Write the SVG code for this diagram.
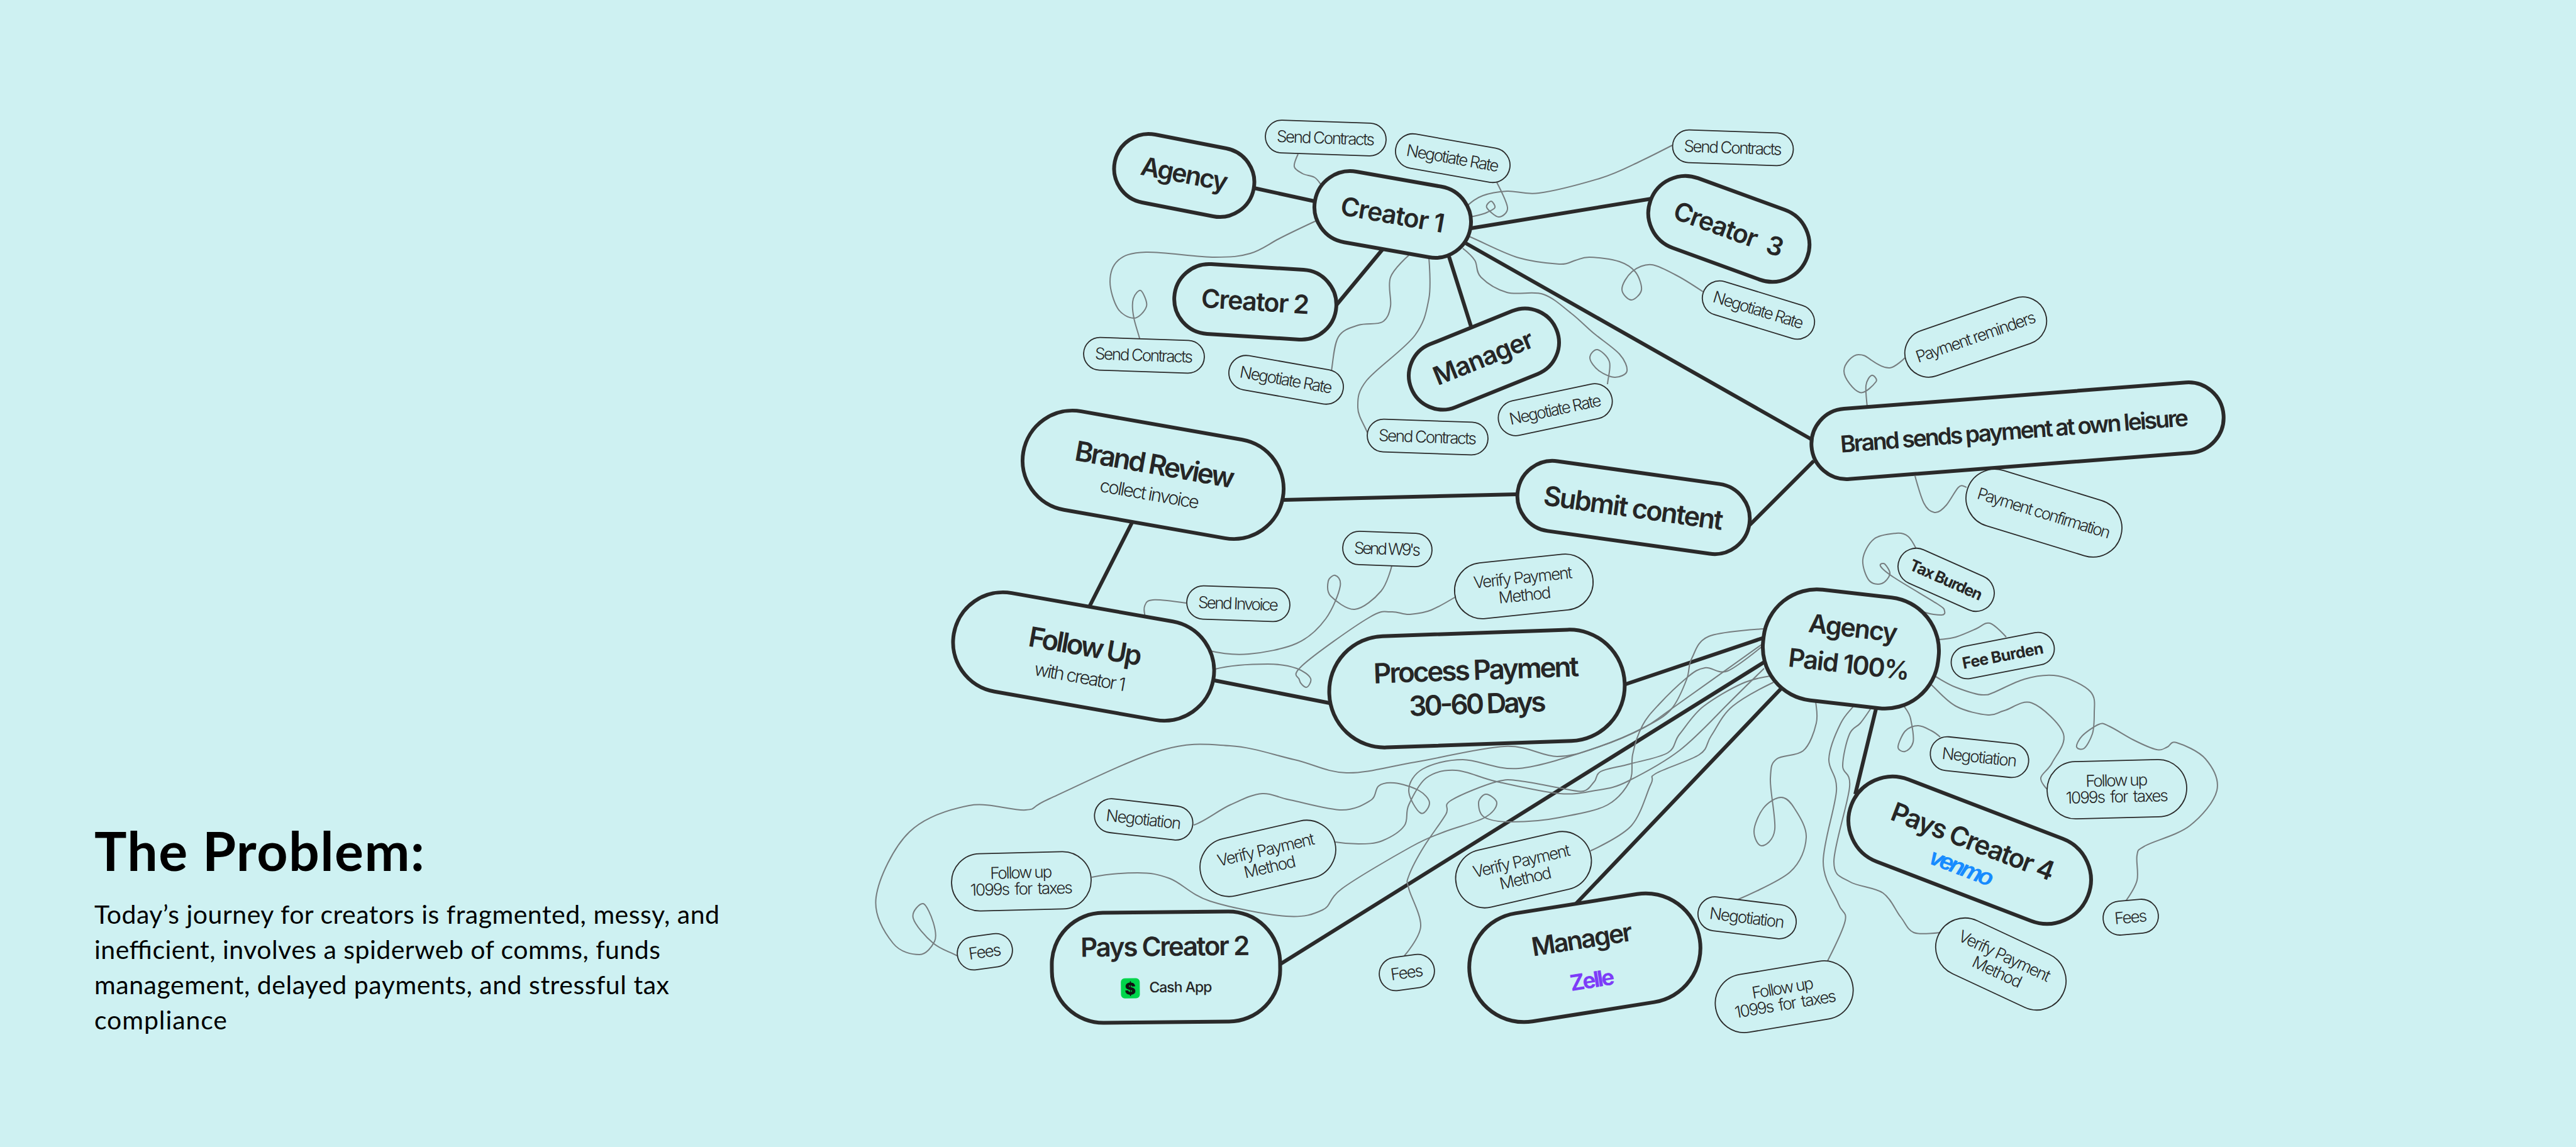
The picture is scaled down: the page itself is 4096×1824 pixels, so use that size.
<svg xmlns="http://www.w3.org/2000/svg" width="4096" height="1824" viewBox="0 0 4096 1824">
<style>
.n{fill:#CEF1F2;stroke:#2a2a2a;stroke-width:6}
.s{fill:#CEF1F2;stroke:#2a2a2a;stroke-width:1.8}
.k{stroke:#2a2a2a;stroke-width:6;fill:none}
.c{stroke:#767d7f;stroke-width:2;fill:none}
text{font-family:Inter,"Liberation Sans",sans-serif;fill:#262626;text-anchor:middle}
.t{font-size:41px;font-weight:600}
.l{font-size:26px;font-weight:300}
.b{font-size:25px;font-weight:700}
.h{font-family:Lato,"Liberation Sans",sans-serif;fill:#000;text-anchor:start}
</style>
<rect width="4096" height="1824" fill="#CEF1F2"/>
<g id="connectors">
<g id="thick-links">
<path class="k" d="M1994 299L2090 320M2198 397L2125 485M2304 408L2339 519M2339 363L2626 316M2331 387L2881 699M2884 733L2782 835M2041 795L2413 786M1800 831L1732 965M1931 1082L2114 1118M2585 1088L2805 1014M2805 1053L2036 1533M2834 1093L2506 1437M2983 1127L2950 1263"/>
</g>
<g id="thin-links">
<path class="c" d="M2064 245C2064 245 2057 260 2058 265S2066 273 2071 276 2085 279 2090 282 2097 289 2100 293"/>
<path class="c" d="M2380 290C2380 290 2396 321 2397 330S2388 345 2383 345 2366 334 2364 330 2369 320 2371 320 2378 327 2377 330 2370 335 2364 338 2347 343 2339 345"/>
<path class="c" d="M2659 231C2659 231 2626 248 2607 257S2570 276 2543 284 2471 304 2447 307 2411 303 2396 304 2369 307 2358 311 2340 321 2332 328"/>
<path class="c" d="M2708 464C2708 464 2678 444 2664 437S2637 422 2626 421 2603 425 2595 432 2579 452 2579 460 2589 477 2594 477 2609 468 2610 461 2606 439 2600 432 2587 420 2575 416 2539 409 2527 409 2513 412 2505 414 2494 421 2479 420 2439 417 2415 410 2362 387 2336 376"/>
<path class="c" d="M2093 351C2093 351 2050 371 2033 380S2005 398 1988 403 1959 409 1931 409 1847 400 1822 401 1787 406 1778 414 1765 435 1765 448 1771 480 1777 490 1795 506 1803 506 1821 494 1823 487 1817 464 1814 462 1804 468 1802 475 1801 496 1803 506 1809 527 1812 538"/>
<path class="c" d="M2240 406C2240 406 2216 427 2211 441S2213 475 2211 487 2206 507 2198 512 2172 513 2160 517 2135 524 2128 536 2120 572 2117 590"/>
<path class="c" d="M2272 410C2272 410 2276 455 2272 475S2266 511 2250 533 2188 586 2173 605 2159 634 2159 648 2170 676 2175 690"/>
<path class="c" d="M2326 395C2326 395 2340 406 2345 414S2346 432 2355 441 2379 460 2396 465 2437 462 2454 468 2485 488 2498 498 2520 518 2533 529 2566 553 2575 563 2588 584 2587 590 2575 600 2568 600 2550 595 2543 590 2528 575 2528 569 2535 555 2540 556 2556 566 2559 575 2557 599 2556 611"/>
<path class="c" d="M3029 569C3029 569 3014 584 3005 585S2986 580 2976 573 2964 564 2955 564 2932 578 2932 590 2948 621 2957 624 2980 611 2983 607 2979 596 2976 597 2968 605 2967 613 2968 636 2969 647"/>
<path class="c" d="M3045 757C3045 757 3054 790 3059 800S3070 814 3076 815 3089 810 3095 803 3109 780 3114 775 3122 773 3127 775"/>
<path class="c" d="M3047 873C3047 873 3039 857 3034 853S3024 847 3015 848 2989 850 2980 857 2963 879 2962 890 2967 917 2972 923 2986 930 2992 928 3004 918 3005 913 2999 899 2997 897 2988 896 2990 900 2996 908 3011 918 3066 951 3080 960 3091 969 3092 972 3092 978 3087 978 3068 977 3059 973"/>
<path class="c" d="M3190 1013C3190 1013 3172 993 3164 991S3151 996 3142 1000 3120 1010 3110 1013 3092 1016 3083 1017"/>
<path class="c" d="M3255 1255C3255 1255 3244 1244 3245 1237S3257 1225 3263 1213 3286 1183 3281 1167 3247 1124 3231 1118 3199 1127 3187 1130 3174 1138 3161 1137 3125 1131 3110 1123 3083 1100 3070 1088"/>
<path class="c" d="M3380 1433C3380 1433 3395 1412 3398 1400S3396 1369 3398 1360 3397 1353 3411 1345 3463 1328 3482 1313 3521 1275 3525 1257 3518 1220 3507 1207 3471 1184 3461 1181 3451 1186 3446 1188 3438 1194 3429 1192 3405 1183 3393 1177 3363 1159 3354 1155 3344 1149 3337 1152 3317 1164 3311 1170 3301 1185 3302 1188 3310 1193 3314 1190 3324 1176 3327 1167 3330 1144 3330 1133 3333 1110 3324 1100 3290 1078 3273 1075 3236 1075 3219 1080 3179 1098 3168 1102 3165 1104 3155 1105 3123 1098 3110 1093 3087 1081 3076 1075"/>
<path class="c" d="M3085 1172C3085 1172 3077 1165 3071 1162S3057 1154 3050 1154 3034 1157 3029 1163 3018 1183 3018 1188 3025 1196 3029 1195 3040 1189 3042 1180 3040 1153 3038 1143 3031 1129 3027 1122"/>
<path class="c" d="M2762 1431C2762 1431 2828 1403 2846 1387S2871 1349 2872 1332 2860 1296 2853 1285 2840 1268 2832 1268 2811 1276 2804 1285 2789 1312 2789 1322 2795 1345 2801 1345 2820 1337 2822 1319 2814 1257 2815 1238 2816 1214 2825 1207 2856 1203 2867 1194 2885 1163 2888 1150 2888 1127 2887 1115"/>
<path class="c" d="M2906 1528C2906 1528 2931 1479 2934 1464S2929 1453 2923 1437 2899 1400 2899 1370 2918 1285 2920 1258 2907 1225 2908 1207 2920 1164 2927 1150 2941 1131 2948 1122"/>
<path class="c" d="M3085 1483C3085 1483 3053 1487 3043 1483S3030 1468 3022 1458 3007 1429 2994 1420 2954 1410 2941 1402 2916 1395 2916 1370 2939 1276 2941 1251 2930 1232 2930 1218 2936 1178 2941 1167 2952 1157 2958 1150 2970 1133 2976 1125"/>
<path class="c" d="M2801 1025C2801 1025 2689 1105 2658 1127S2633 1147 2614 1157 2564 1180 2541 1188 2501 1203 2476 1203 2430 1185 2392 1187 2292 1205 2250 1212 2173 1230 2141 1229 2089 1215 2058 1208 1991 1188 1956 1186 1895 1179 1847 1193 1705 1254 1669 1270 1652 1286 1631 1288 1572 1275 1541 1281 1471 1299 1446 1323 1397 1397 1393 1427 1408 1485 1420 1500 1451 1518 1462 1518 1482 1505 1486 1497 1487 1477 1484 1467 1473 1438 1468 1437 1449 1449 1452 1460 1472 1490 1484 1500 1509 1513 1522 1520"/>
<path class="c" d="M2805 1000C2805 1000 2736 1004 2717 1012S2696 1036 2690 1047 2687 1067 2682 1080 2669 1114 2658 1127 2633 1147 2614 1157 2574 1177 2541 1188 2451 1219 2415 1222 2351 1208 2326 1208 2276 1215 2262 1223 2240 1245 2240 1257 2253 1290 2259 1293 2273 1283 2273 1277 2265 1262 2256 1257 2228 1246 2217 1245 2198 1245 2192 1250 2189 1267 2179 1273 2155 1288 2134 1288 2072 1276 2051 1272 2023 1261 2007 1262 1974 1272 1956 1280 1915 1307 1898 1312"/>
<path class="c" d="M2805 1063C2805 1063 2769 1098 2747 1120S2698 1172 2671 1193 2609 1232 2587 1243 2555 1254 2537 1257 2506 1264 2480 1262 2407 1249 2380 1243 2334 1226 2315 1225 2280 1228 2268 1237 2246 1267 2240 1280 2240 1303 2233 1313 2210 1332 2198 1337 2172 1342 2160 1342 2135 1341 2123 1339"/>
<path class="c" d="M2233 1520C2233 1520 2258 1491 2259 1473S2243 1426 2240 1413 2236 1404 2240 1393 2255 1361 2265 1345 2292 1307 2299 1295 2293 1282 2307 1273 2361 1248 2380 1243 2401 1240 2418 1242 2463 1250 2480 1253 2509 1260 2518 1258 2530 1248 2535 1243 2536 1232 2545 1227 2573 1220 2591 1215 2639 1205 2652 1197 2661 1179 2671 1167 2692 1136 2709 1123 2752 1095 2770 1087 2799 1078 2814 1075"/>
<path class="c" d="M2803 1027C2803 1027 2762 1061 2747 1067S2722 1060 2711 1062 2695 1067 2683 1077 2650 1107 2638 1120 2619 1140 2612 1153 2599 1185 2596 1200 2598 1230 2591 1243 2574 1270 2556 1280 2505 1295 2480 1300 2423 1307 2403 1307 2370 1305 2361 1300 2351 1283 2351 1277 2358 1263 2363 1263 2380 1271 2380 1277 2375 1292 2361 1300 2316 1315 2296 1323 2270 1332 2243 1347 2157 1396 2134 1413 2118 1440 2103 1447 2075 1459 2045 1457 1955 1443 1924 1433 1879 1404 1860 1397 1830 1388 1809 1388 1760 1390 1736 1395"/>
<path class="c" d="M2529 1353C2529 1353 2578 1331 2594 1313S2618 1261 2625 1247 2620 1238 2633 1230 2687 1210 2702 1200 2712 1183 2721 1170 2738 1137 2755 1123 2797 1096 2820 1085"/>
<path class="c" d="M1886 959C1886 959 1844 953 1833 954S1822 959 1820 964 1820 976 1821 982"/>
<path class="c" d="M2213 900C2213 900 2206 928 2196 940S2167 968 2154 969 2123 955 2116 948 2111 929 2112 924 2120 914 2123 915 2133 920 2131 932 2119 969 2108 984 2082 1014 2062 1023 2009 1038 1986 1040 1945 1040 1924 1035"/>
<path class="c" d="M2313 950C2313 950 2288 965 2276 970S2253 976 2242 977 2223 972 2212 973 2201 968 2177 982 2088 1042 2070 1059 2065 1075 2066 1081 2074 1093 2077 1093 2086 1084 2084 1079 2073 1067 2062 1063 2038 1056 2016 1056 1960 1057 1932 1064"/>
</g>
</g>
<g id="creator-1"><g transform="translate(2214.5 341) rotate(10)"><rect class="n" x="-125.5" y="-57" width="251" height="114" rx="57"/><text class="t" y="15" textLength="167">Creator 1</text></g></g>
<g id="agency"><g transform="translate(1883 279) rotate(11)"><rect class="n" x="-112.5" y="-55" width="225" height="110" rx="55"/><text class="t" y="12" textLength="140">Agency</text></g></g>
<g id="creator-2"><g transform="translate(1996 480) rotate(3.5)"><rect class="n" x="-129" y="-55.5" width="258" height="111" rx="55.5"/><text class="t" y="14" textLength="172">Creator 2</text></g></g>
<g id="creator-3"><g transform="translate(2749 364) rotate(20)"><rect class="n" x="-132.5" y="-59" width="265" height="118" rx="59"/><text class="t" y="15" textLength="183" style="word-spacing:10px">Creator 3</text></g></g>
<g id="manager-top"><g transform="translate(2359.5 571) rotate(-22)"><rect class="n" x="-124.5" y="-54" width="249" height="108" rx="54"/><text class="t" y="12" textLength="168">Manager</text></g></g>
<g id="brand-sends"><g transform="translate(3208 685) rotate(-4.4)"><rect class="n" x="-328.5" y="-56" width="657" height="112" rx="56"/><text x="-5" y="13" class="t" style="font-size:37px" textLength="555">Brand sends payment at own leisure</text></g></g>
<g id="brand-review"><g transform="translate(1833.5 755) rotate(10)"><rect class="n" x="-209.5" y="-79.5" width="419" height="159" rx="79.5"/><text class="t" y="-1" style="font-size:44px" textLength="257">Brand Review</text><text class="l" y="41" style="font-size:29px" textLength="160">collect invoice</text></g></g>
<g id="submit-content"><g transform="translate(2597.5 807) rotate(8)"><rect class="n" x="-186" y="-56" width="372" height="112" rx="56"/><text class="t" y="16" style="font-size:43px" textLength="288">Submit content</text></g></g>
<g id="follow-up"><g transform="translate(1723 1044) rotate(10)"><rect class="n" x="-209.5" y="-79.5" width="419" height="159" rx="79.5"/><text class="t" y="-1" style="font-size:44px" textLength="182">Follow Up</text><text class="l" y="43" style="font-size:29px" textLength="147">with creator 1</text></g></g>
<g id="process-payment"><g transform="translate(2348.5 1095) rotate(-2)"><rect class="n" x="-235" y="-88.5" width="470" height="177" rx="88"/><text class="t" y="-14" style="font-size:44px" textLength="327">Process Payment</text><text class="t" y="40" style="font-size:44px" textLength="218">30-60 Days</text></g></g>
<g id="agency-paid"><g transform="translate(2943 1032) rotate(6.5)"><rect class="n" x="-140" y="-88.5" width="280" height="177" rx="85"/><text class="t" y="-19" textLength="142">Agency</text><text class="t" y="39" textLength="194">Paid 100%</text></g></g>
<g id="pays-creator-2"><g transform="translate(1854 1538) rotate(-0.6)"><rect class="n" x="-181.5" y="-87.5" width="363" height="175" rx="82"/><text class="t" x="-1" y="-18" style="font-size:42px" textLength="269">Pays Creator 2</text><text x="23" y="40" style="font-size:23px;font-weight:500" textLength="100">Cash App</text><rect x="-72" y="17" width="30" height="32" rx="6" fill="#00D54B"/><text x="-57" y="43" style="font-size:26px;font-weight:900;fill:#111">$</text></g></g>
<g id="manager-bottom"><g transform="translate(2520 1523) rotate(-9)"><rect class="n" x="-185" y="-87" width="370" height="174" rx="87"/><text class="t" y="-15" textLength="162">Manager</text><text x="6" y="49" style="font-size:35px;font-weight:700;fill:#7D3CF8" textLength="71">Zelle</text></g></g>
<g id="pays-creator-4"><g transform="translate(3132 1352) rotate(21)"><rect class="n" x="-201.5" y="-70" width="403" height="140" rx="70"/><text class="t" y="0" style="font-size:42px" textLength="275">Pays Creator 4</text><text x="-2" y="43" style="font-family:'Liberation Sans',sans-serif;font-size:38px;font-weight:700;font-style:italic;fill:#178BFF" textLength="106">venmo</text></g></g>
<g id="send-contracts-1"><g transform="translate(2108 219.5) rotate(2)"><rect class="s" x="-96" y="-26" width="192" height="52" rx="26"/><text class="l" y="9" textLength="156">Send Contracts</text></g></g>
<g id="negotiate-rate-1"><g transform="translate(2310 251.5) rotate(10)"><rect class="s" x="-92" y="-27.5" width="184" height="55" rx="27.5"/><text class="l" y="9" textLength="149">Negotiate Rate</text></g></g>
<g id="send-contracts-2"><g transform="translate(1819 565) rotate(2)"><rect class="s" x="-96" y="-26" width="192" height="52" rx="26"/><text class="l" y="9" textLength="156">Send Contracts</text></g></g>
<g id="negotiate-rate-2"><g transform="translate(2045 604) rotate(10)"><rect class="s" x="-92" y="-27.5" width="184" height="55" rx="27.5"/><text class="l" y="9" textLength="149">Negotiate Rate</text></g></g>
<g id="send-contracts-3"><g transform="translate(2270 695) rotate(2)"><rect class="s" x="-96" y="-26" width="192" height="52" rx="26"/><text class="l" y="9" textLength="156">Send Contracts</text></g></g>
<g id="negotiate-rate-3"><g transform="translate(2473 651.5) rotate(-12)"><rect class="s" x="-92" y="-28" width="184" height="56" rx="28"/><text class="l" y="9" textLength="149">Negotiate Rate</text></g></g>
<g id="send-contracts-4"><g transform="translate(2755.5 235) rotate(2)"><rect class="s" x="-96" y="-26" width="192" height="52" rx="26"/><text class="l" y="9" textLength="156">Send Contracts</text></g></g>
<g id="negotiate-rate-4"><g transform="translate(2796 493) rotate(17)"><rect class="s" x="-92" y="-27.5" width="184" height="55" rx="27.5"/><text class="l" y="9" textLength="149">Negotiate Rate</text></g></g>
<g id="payment-reminders"><g transform="translate(3141.5 536) rotate(-19)"><rect class="s" x="-117" y="-38" width="234" height="76" rx="38"/><text class="l" y="9" textLength="200">Payment reminders</text></g></g>
<g id="payment-confirmation"><g transform="translate(3250 816) rotate(17)"><rect class="s" x="-127.5" y="-46" width="255" height="92" rx="46"/><text class="l" y="9" textLength="220">Payment confirmation</text></g></g>
<g id="send-w9"><g transform="translate(2206 873) rotate(2)"><rect class="s" x="-71" y="-26.5" width="142" height="53" rx="26.5"/><text class="l" y="9" textLength="106">Send W9's</text></g></g>
<g id="send-invoice"><g transform="translate(1969 960) rotate(2)"><rect class="s" x="-82" y="-26.5" width="164" height="53" rx="26.5"/><text class="l" y="9" textLength="128">Send Invoice</text></g></g>
<g id="verify-1"><g transform="translate(2423 932.5) rotate(-6)"><rect class="s" x="-110.5" y="-44.5" width="221" height="89" rx="44.5"/><text class="l" y="-5" textLength="158">Verify Payment</text><text class="l" y="23" textLength="84">Method</text></g></g>
<g id="tax-burden"><g transform="translate(3094.5 922) rotate(24)"><rect class="s" x="-81" y="-29" width="162" height="58" rx="29"/><text class="b" y="9" textLength="124">Tax Burden</text></g></g>
<g id="fee-burden"><g transform="translate(3184.5 1042.5) rotate(-11)"><rect class="s" x="-83" y="-26" width="166" height="52" rx="26"/><text class="b" y="9" textLength="131">Fee Burden</text></g></g>
<g id="negotiation-1"><g transform="translate(3147.5 1204) rotate(6)"><rect class="s" x="-78.5" y="-27" width="157" height="54" rx="27"/><text class="l" y="9" textLength="120">Negotiation</text></g></g>
<g id="follow-up-1"><g transform="translate(3366 1255) rotate(-1.4)"><rect class="s" x="-111" y="-45.5" width="222" height="91" rx="45.5"/><text class="l" y="-5" textLength="99">Follow up</text><text class="l" y="21" textLength="163" style="word-spacing:4px">1099s for taxes</text></g></g>
<g id="fees-1"><g transform="translate(3388 1458.5) rotate(-5)"><rect class="s" x="-44" y="-27" width="88" height="54" rx="27"/><text class="l" y="9" textLength="52">Fees</text></g></g>
<g id="negotiation-2"><g transform="translate(1818.5 1303) rotate(6.5)"><rect class="s" x="-78.5" y="-27" width="157" height="54" rx="27"/><text class="l" y="9" textLength="120">Negotiation</text></g></g>
<g id="verify-2"><g transform="translate(2016 1365) rotate(-13)"><rect class="s" x="-109.5" y="-46.5" width="219" height="93" rx="46.5"/><text class="l" y="-5" textLength="158">Verify Payment</text><text class="l" y="23" textLength="84">Method</text></g></g>
<g id="follow-up-2"><g transform="translate(1624 1401.5) rotate(-1.4)"><rect class="s" x="-111" y="-45.5" width="222" height="91" rx="45.5"/><text class="l" y="-5" textLength="99">Follow up</text><text class="l" y="21" textLength="163" style="word-spacing:4px">1099s for taxes</text></g></g>
<g id="fees-2"><g transform="translate(1566 1513.5) rotate(-8)"><rect class="s" x="-44" y="-26.5" width="88" height="53" rx="26.5"/><text class="l" y="9" textLength="52">Fees</text></g></g>
<g id="fees-3"><g transform="translate(2237 1546.5) rotate(-8)"><rect class="s" x="-44" y="-26.5" width="88" height="53" rx="26.5"/><text class="l" y="9" textLength="52">Fees</text></g></g>
<g id="verify-3"><g transform="translate(2422.5 1383) rotate(-13)"><rect class="s" x="-109.5" y="-46.5" width="219" height="93" rx="46.5"/><text class="l" y="-5" textLength="158">Verify Payment</text><text class="l" y="23" textLength="84">Method</text></g></g>
<g id="negotiation-3"><g transform="translate(2778 1459.5) rotate(7)"><rect class="s" x="-78.5" y="-27" width="157" height="54" rx="27"/><text class="l" y="9" textLength="120">Negotiation</text></g></g>
<g id="follow-up-3"><g transform="translate(2837 1585) rotate(-9.5)"><rect class="s" x="-110.5" y="-46.5" width="221" height="93" rx="46.5"/><text class="l" y="-5" textLength="99">Follow up</text><text class="l" y="21" textLength="163" style="word-spacing:4px">1099s for taxes</text></g></g>
<g id="verify-4"><g transform="translate(3181.5 1533) rotate(25)"><rect class="s" x="-109.5" y="-46.5" width="219" height="93" rx="46.5"/><text class="l" y="-5" textLength="158">Verify Payment</text><text class="l" y="23" textLength="84">Method</text></g></g>
<g id="intro">
<text class="h" x="150" y="1385" style="font-size:86px;font-weight:700" textLength="525">The Problem:</text>
<text class="h" x="150" y="1469" style="font-size:41px" textLength="994">Today’s journey for creators is fragmented, messy, and</text>
<text class="h" x="150" y="1525" style="font-size:41px" textLength="900">inefficient, involves a spiderweb of comms, funds</text>
<text class="h" x="150" y="1581" style="font-size:41px" textLength="914">management, delayed payments, and stressful tax</text>
<text class="h" x="150" y="1637" style="font-size:41px" textLength="211">compliance</text>
</g>
</svg>
